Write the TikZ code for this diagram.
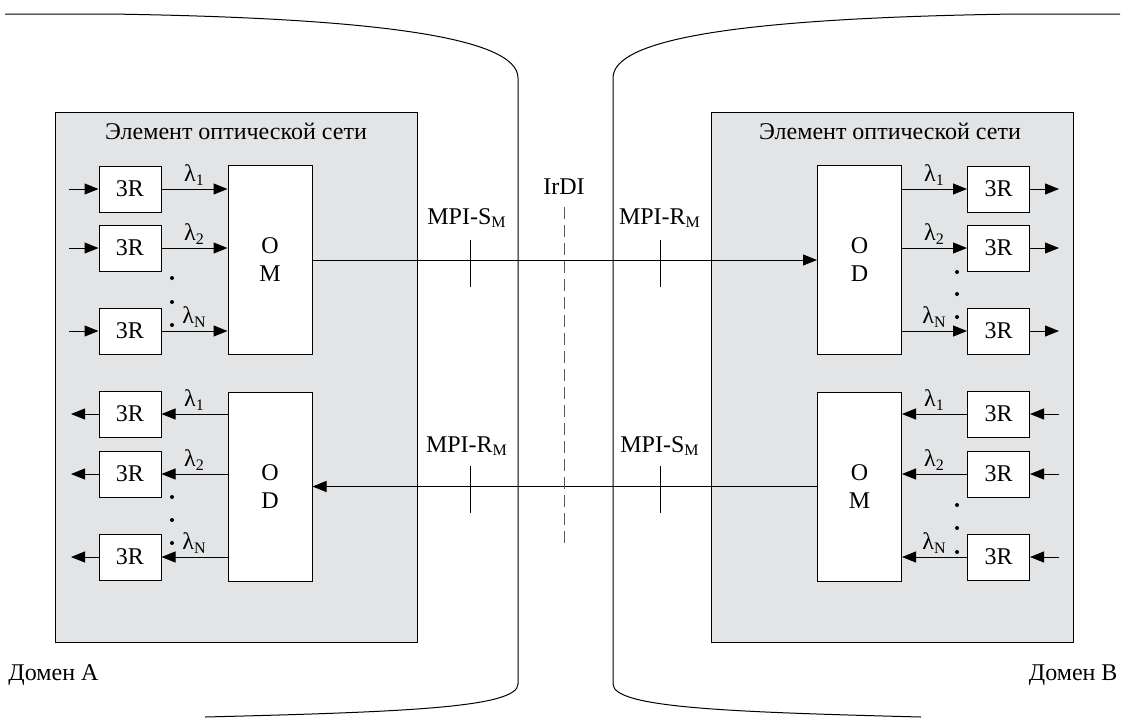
\documentclass[tikz,border=0pt]{standalone}
\usepackage{fontspec}
\setmainfont{Liberation Serif}
\usetikzlibrary{arrows.meta}
\definecolor{nefill}{RGB}{227,228,230}

\begin{document}
\begin{tikzpicture}[x=0.5pt, y=-0.5pt, line width=0.5pt, font=\fontsize{12}{14}\selectfont]

	% ---------- Helper styles ----------
	\tikzset{
		rbox/.style={draw, fill=white, minimum width=31pt, minimum height=23pt, inner sep=0pt},
		mux/.style={draw, fill=white, minimum width=42pt, minimum height=94.5pt, inner sep=0pt, align=center},
		sig/.style={-{Triangle[length=7pt,width=5.5pt]}},
		lam/.style={above, inner sep=1.5pt},
		nebox/.style={draw, fill=nefill},
		refmark/.style={line width=0.5pt}
	}

	\useasboundingbox (0,0) rectangle (1125,720);

	% ---------- Domains ----------
	\draw (5,14) -- (110,14) .. controls (380,18) and (518,38) .. (518,78)
		-- (518,684) .. controls (518,708) and (400,712) .. (205,717);
	\draw (1120,14) -- (1015,14) .. controls (745,18) and (613,38) .. (613,78)
		-- (613,684) .. controls (613,708) and (730,712) .. (921,717);
	\node[anchor=west, inner sep=0pt] (domA) at (8,675) {Домен A};
	\node[anchor=east, inner sep=0pt] (domB) at (1118,675) {Домен B};

	% ---------- Network elements ----------
	\draw[nebox] (55,112) rectangle (417,642);
	\draw[nebox] (711,112) rectangle (1073,642);
	\node (neA) at (236,131) {Элемент оптической сети};
	\node (neB) at (890,131) {Элемент оптической сети};

	% ---------- DOMAIN A (left) ----------
	\node[mux] (AOM) at (270,260) {O\\M};
	\node[mux] (AOD) at (270,486.5) {O\\D};
	% transmitters
	\foreach \i/\y in {1/189, 2/248, N/331} {
		\node[rbox] (ATx\i) at (130,\y) {3R};
		\coordinate (ATxIn\i) at (69,\y);
		\draw[sig] (ATxIn\i) -- (ATx\i);
		\draw[sig] (ATx\i) -- node[lam] {λ\textsubscript{\i}} (ATx\i -| AOM.west);
	}
	% receivers
	\foreach \i/\y in {1/414, 2/474, N/557} {
		\node[rbox] (ARx\i) at (130,\y) {3R};
		\coordinate (ARxOut\i) at (71,\y);
		\draw[sig] (ARx\i) -- (ARxOut\i);
		\draw[sig] (ARx\i -| AOD.west) -- node[lam] {λ\textsubscript{\i}} (ARx\i);
	}
	\foreach \y in {278,302,325,497,520,543}
		\fill (172,\y) circle (2);

	% ---------- DOMAIN B (right) ----------
	\node[mux] (BOD) at (859.5,260) {O\\D};
	\node[mux] (BOM) at (859.5,486.5) {O\\M};
	% receivers
	\foreach \i/\y in {1/189, 2/248, N/331} {
		\node[rbox] (BRx\i) at (998.5,\y) {3R};
		\coordinate (BRxOut\i) at (1059,\y);
		\draw[sig] (BRx\i) -- (BRxOut\i);
		\draw[sig] (BRx\i -| BOD.east) -- node[lam] {λ\textsubscript{\i}} (BRx\i);
	}
	% transmitters
	\foreach \i/\y in {1/414, 2/474, N/557} {
		\node[rbox] (BTx\i) at (998.5,\y) {3R};
		\coordinate (BTxIn\i) at (1059,\y);
		\draw[sig] (BTxIn\i) -- (BTx\i);
		\draw[sig] (BTx\i) -- node[lam] {λ\textsubscript{\i}} (BTx\i -| BOM.east);
	}
	\foreach \y in {272,294,317,505,528,552}
		\fill (957,\y) circle (2);

	% ---------- Links between domains ----------
	\draw[sig] (AOM) -- (BOD);
	\draw[sig] (BOM) -- (AOD);

	% reference points
	\foreach \x in {470,660} {
		\draw[refmark] (\x,240) -- (\x,287);
		\draw[refmark] (\x,466) -- (\x,513);
	}
	\node (sA) at (467,218) {MPI-S\textsubscript{M}};
	\node (rB) at (660,218) {MPI-R\textsubscript{M}};
	\node (rA) at (467,446) {MPI-R\textsubscript{M}};
	\node (sB) at (660,446) {MPI-S\textsubscript{M}};

	% IrDI
	\node (irdi) at (564,187) {IrDI};
	\draw[dashed, dash pattern=on 6pt off 3pt, gray!70!black] (564,207) -- (564,546);

\end{tikzpicture}
\end{document}
